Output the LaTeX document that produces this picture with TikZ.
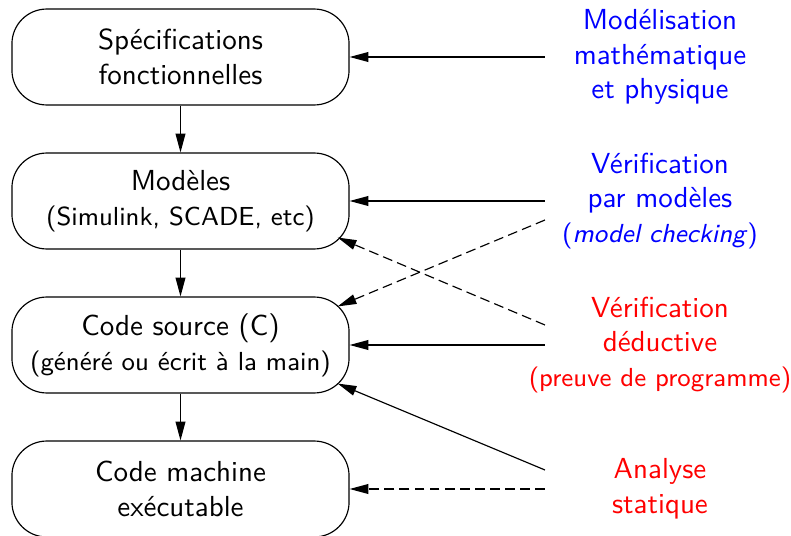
\documentclass[tikz,border=0pt]{standalone}
\usepackage{fontspec}
\usetikzlibrary{arrows.meta,calc}
\begin{document}
\begin{tikzpicture}[x=0.345pt,y=-0.345pt,font=\sffamily,
  stage/.style={draw,rounded corners=12pt,minimum width=116.3pt,minimum height=33.1pt,align=center,inner sep=0pt},
  method/.style={align=center,inner sep=0pt},
  feed/.style={-{Triangle[length=6.5pt,width=3.4pt]}},
  weak/.style={feed,dash pattern=on 3.4pt off 1.8pt}]
\useasboundingbox (0,0) rectangle (791,536);

% development chain
\node[stage] (spec) at (180.5,57)  {Spécifications\\fonctionnelles};
\node[stage] (model) at (180.5,201) {Modèles\\{\small(Simulink, SCADE, etc)}};
\node[stage] (code) at (180.5,345) {Code source (C)\\{\small(généré ou écrit à la main)}};
\node[stage] (bin) at (180.5,489) {Code machine\\exécutable};

% methods
\node[method,blue] (modphys) at (660,57)  {Modélisation\\mathématique\\et physique};
\node[method,blue] (mc)      at (660,201) {Vérification\\par modèles\\{\small(\textit{model checking})}};
\node[method,red]  (ded)     at (660,345) {Vérification\\déductive\\{\small(preuve de programme)}};
\node[method,red]  (stat)    at (660,489) {Analyse\\statique};

% rail where the method connectors start
\coordinate (rail) at (545,0);
\coordinate (mcLow)   at ($(rail |- mc)+(0,19)$);
\coordinate (dedHigh) at ($(rail |- ded)+(0,-20)$);
\coordinate (statHigh) at ($(rail |- stat)+(0,-19)$);

\draw[feed] (spec) -- (model);
\draw[feed] (model) -- (code);
\draw[feed] (code) -- (bin);

\draw[feed] (rail |- modphys) -- (spec);
\draw[feed] (rail |- mc) -- (model);
\draw[weak] (mcLow) -- ($(code.north east)+(-12,10)$);
\draw[feed] (rail |- ded) -- (code);
\draw[weak] (dedHigh) -- ($(model.south east)+(-12,-12)$);
\draw[feed] (statHigh) -- ($(code.south east)+(-12,-10)$);
\draw[weak] (rail |- stat) -- (bin);
\end{tikzpicture}
\end{document}
